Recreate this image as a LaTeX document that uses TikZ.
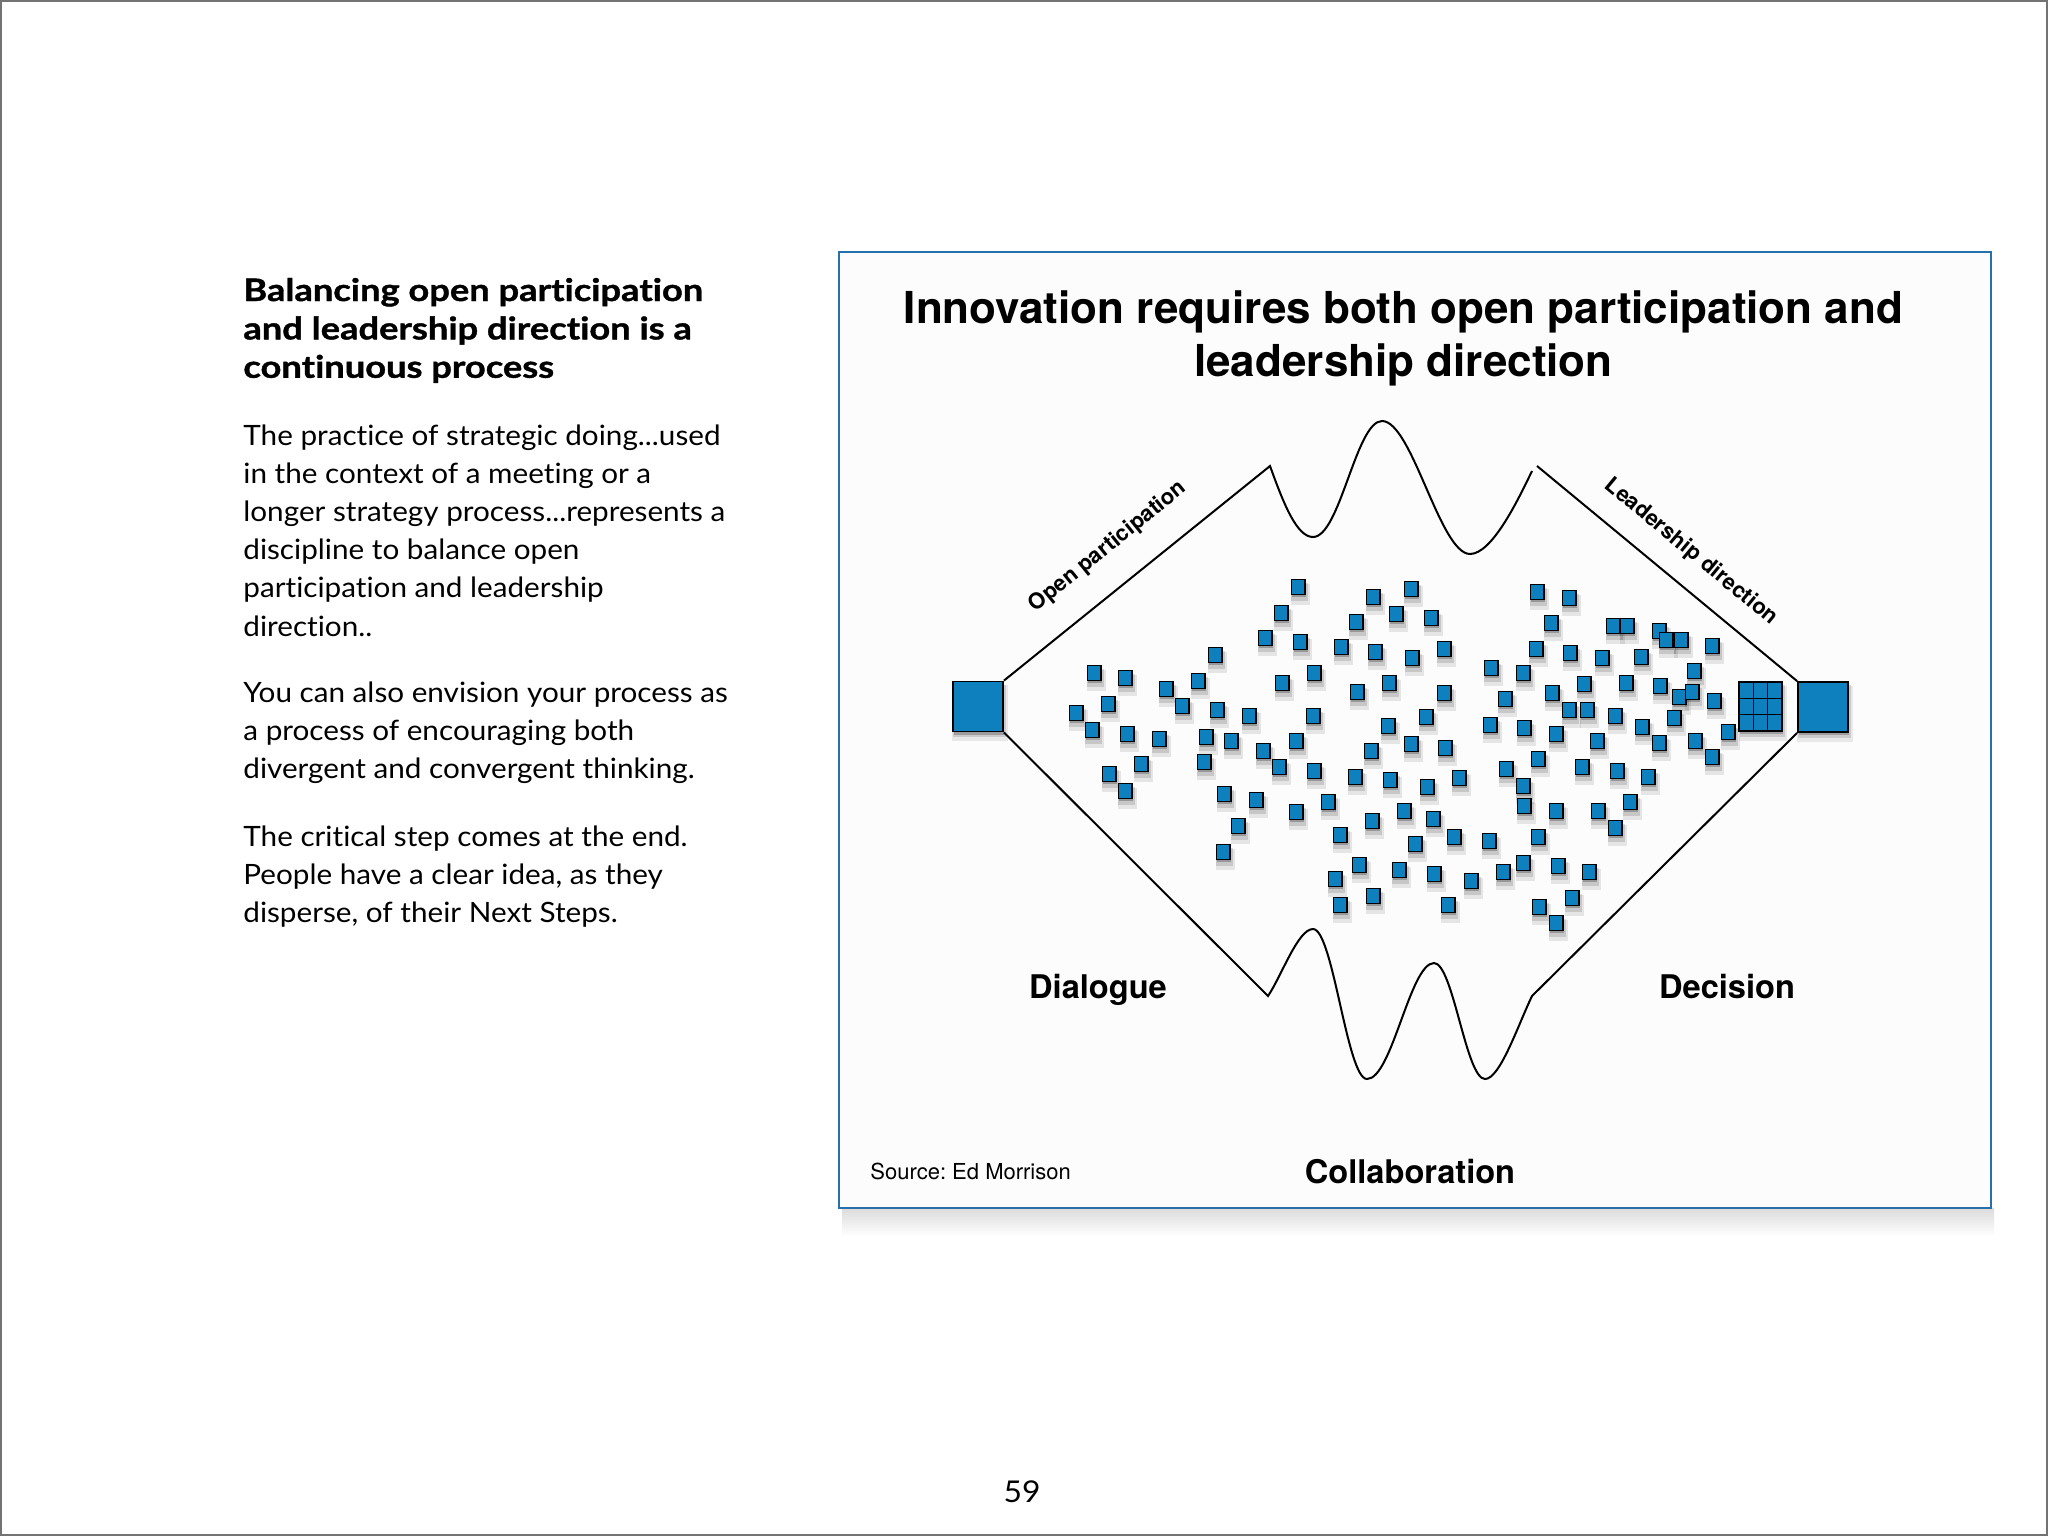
\documentclass[tikz,border=0pt]{standalone}
\usepackage{fontspec}
\newfontfamily\gill{Lato}[Ligatures=NoCommon, FakeStretch=1.06]
\newfontfamily\gillhead{Lato}[Ligatures=NoCommon, FakeStretch=1.17, BoldFeatures={FakeBold=1.2}]
\newfontfamily\helv{TeX Gyre Heros}
\usetikzlibrary{shadows,positioning}

\definecolor{chipblue}{RGB}{14,128,190}
\definecolor{frameblue}{RGB}{38,112,172}
\definecolor{panel}{RGB}{252,252,253}

\tikzset{
  soft/.style={
    drop shadow={shadow xshift=.8pt,shadow yshift=-2.6pt,opacity=.09,shadow scale=1.45,fill=black},
    drop shadow={shadow xshift=.6pt,shadow yshift=-2pt,opacity=.13,shadow scale=1.2,fill=black},
    drop shadow={shadow xshift=.4pt,shadow yshift=-1.4pt,opacity=.24,fill=black}},
  bigsoft/.style={
    drop shadow={shadow xshift=1pt,shadow yshift=-3pt,opacity=.08,shadow scale=1.12,fill=black},
    drop shadow={shadow xshift=.8pt,shadow yshift=-2.2pt,opacity=.12,shadow scale=1.05,fill=black},
    drop shadow={shadow xshift=.5pt,shadow yshift=-1.5pt,opacity=.22,fill=black}},
  chip/.style={soft, draw=black, line width=.8pt, fill=chipblue,
    minimum width=6.7pt, minimum height=7.4pt, inner sep=0pt},
  bigchip/.style={bigsoft, draw=black, line width=.9pt, fill=chipblue,
    minimum size=25pt, inner sep=0pt},
  cell/.style={draw=black, line width=.8pt, fill=chipblue,
    minimum width=7.15pt, minimum height=8.15pt, inner sep=0pt},
  lbl/.style={font=\helv\bfseries\fontsize{16.3}{19}\selectfont, inner sep=0pt, anchor=base},
  slant/.style={font=\helv\bfseries\fontsize{11}{13}\selectfont, inner sep=0pt},
  head/.style={font=\gillhead\bfseries\fontsize{15.5}{19.2}\selectfont, inner sep=0pt, anchor=base west},
  body/.style={font=\gill\fontsize{14}{19.1}\selectfont, inner sep=0pt, anchor=base west},
}

\begin{document}
\begin{tikzpicture}[x=0.5pt,y=-0.5pt]
  \useasboundingbox (0,0) rectangle (2048,1536);
  \fill[white] (0,0) rectangle (2048,1536);
  \draw[black!55, line width=.8pt] (0.8,0.8) rectangle (2047.2,1535.2);

  % left column
  \node[head] (title) at (243,301) {\begin{tabular}[t]{@{}l@{}}Balancing open participation\\and leadership direction is a\\continuous process\end{tabular}};
  \node[body] (para1) at (243,445) {\begin{tabular}[t]{@{}l@{}}The practice of strategic doing...used\\in the context of a meeting or a\\longer strategy process...represents a\\discipline to balance open\\participation and leadership\\direction..\end{tabular}};
  \node[body] (para2) at (243,702) {\begin{tabular}[t]{@{}l@{}}You can also envision your process as\\a process of encouraging both\\divergent and convergent thinking.\end{tabular}};
  \node[body] (para3) at (243,846) {\begin{tabular}[t]{@{}l@{}}The critical step comes at the end.\\People have a clear idea, as they\\disperse, of their Next Steps.\end{tabular}};
  \node[font=\gill\fontsize{15}{18}\selectfont, inner sep=0pt, anchor=base] (page) at (1022,1502) {59};

  % panel
  \shade[top color=black!14, bottom color=white] (842,1208) rectangle (1994,1236);
  \draw[frameblue, line width=1pt, fill=panel] (839,252) rectangle (1991,1208);

  \node[lbl, font=\helv\bfseries\fontsize{22}{26.5}\selectfont] (head) at (1403.5,323)
    {\begin{tabular}[t]{@{}c@{}}Innovation requires both open participation and\\leadership direction\end{tabular}};

  \node[bigchip] (lsq) at (978,706.5) {};
  \node[bigchip] (rsq) at (1823,707) {};

  \coordinate (ua) at (1270,466);
  \coordinate (ub) at (1532,471);
  \coordinate (uc) at (1537,466);
  \coordinate (la) at (1268,996);
  \coordinate (lb) at (1532,996);

  \draw[line width=1pt] (lsq.north east) -- (ua)
    .. controls (1284,505) and (1297,537) .. (1313,537)
    .. controls (1340,537) and (1356,421) .. (1382,421)
    .. controls (1412,421) and (1440,554) .. (1470,554)
    .. controls (1492,554) and (1518,500) .. (ub);
  \draw[line width=1pt] (uc) -- (rsq.north west);
  \draw[line width=1pt] (lsq.south east) -- (la)
    .. controls (1282,975) and (1298,929) .. (1313,929)
    .. controls (1333,929) and (1347,1079) .. (1367,1079)
    .. controls (1392,1079) and (1410,963) .. (1434,963)
    .. controls (1453,963) and (1466,1079) .. (1485,1079)
    .. controls (1500,1079) and (1518,1025) .. (lb) -- (rsq.south west);

  \node[slant, rotate=38.9] (open) at (1108,547) {Open participation};
  \node[slant, rotate=-39.6] (lead) at (1691,552) {Leadership direction};

  % scattered ideas
  \foreach \x/\y [count=\i] in {
    1094/673,1125/678,1108/704,1076/713,1092/730,1127/734,1159/739,1141/764,
    1109/774,1125/791,1215/655,1198/681,1166/689,1182/706,1217/710,1249/716,
    1206/737,1231/741,1204/762,1263/751,1279/767,1224/794,1256/800,1238/826,
    1223/852,1281/613,1265/638,1282/683,
    1298/587,1300/642,1296/741,1314/673,1313/716,1314/771,1296/812,1328/802,
    1373/597,1411/589,1356/622,1396/614,1431/618,1341/647,1375/652,1412/658,
    1444/649,1389/683,1357/692,1444/693,1491/668,1523/673,1505/699,1426/717,
    1388/726,1490/725,1524/728,1371/751,1411/744,1445/748,1355/777,1390/780,
    1427/787,1459/778,1506/769,1523/786,1372/821,1404/811,1433/819,1524/806,
    1340/835,1415/844,1454/837,1489/841,1359/865,1335/879,1399/870,1434/874,
    1471/881,1503/872,1523/863,1340/905,1373/896,1448/905,
    1537/592,1569/598,1551/623,1613/626,1627/626,1659/631,1666/640,1681/640,
    1712/646,1536/649,1570/653,1602/658,1641/657,1694/671,1584/684,1626/683,
    1660/686,1679/697,1692/692,1714/701,1552/693,1569/710,1587/710,1615/716,
    1674/718,1642/727,1556/734,1597/741,1659/743,1695/741,1728/732,1538/759,
    1712/757,1582/767,1617/771,1648/777,1556/811,1598/811,1630/802,1615/828,
    1538/837,1558/866,1589/872,1572/898,1539/907,1556/923}
    \node[chip] (c\i) at (\x,\y) {};

  % converged block
  \node[bigsoft, fill=chipblue, minimum width=21.5pt, minimum height=24.5pt, inner sep=0pt] (grid) at (1760.5,706.5) {};
  \foreach \r in {0,1,2}
    \foreach \c in {0,1,2}
      \node[cell] (g\r\c) at (1746.2+\c*14.3,690.2+\r*16.3) {};

  \node[lbl] (dia) at (1098,998) {Dialogue};
  \node[lbl] (dec) at (1727,998) {Decision};
  \node[lbl] (col) at (1410,1183) {Collaboration};
  \node[font=\helv\fontsize{11}{13}\selectfont, inner sep=0pt, anchor=base west] (src) at (870,1179) {Source:\ Ed Morrison};
\end{tikzpicture}
\end{document}
